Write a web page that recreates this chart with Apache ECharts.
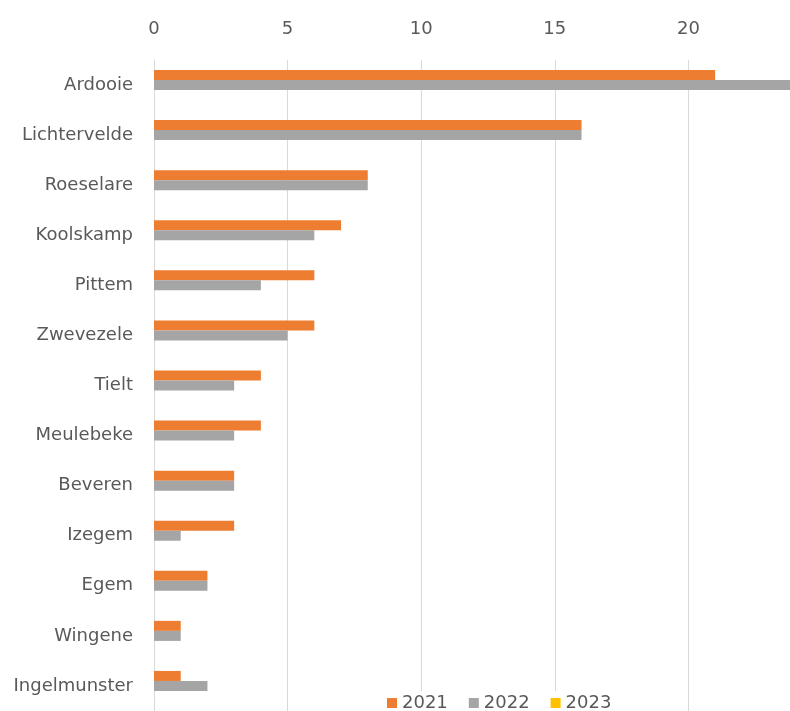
<!DOCTYPE html>
<html>
<head>
<meta charset="utf-8">
<script src="https://cdn.jsdelivr.net/npm/echarts@6/dist/echarts.min.js"></script>
<style>
  html, body { margin: 0; padding: 0; background: #fff; }
  #chart { width: 790px; height: 711px; }
</style>
</head>
<body>
<div id="chart"></div>
<script>
const places = ['Ardooie', 'Lichtervelde', 'Roeselare', 'Koolskamp', 'Pittem', 'Zwevezele',
  'Tielt', 'Meulebeke', 'Beveren', 'Izegem', 'Egem', 'Wingene', 'Ingelmunster']
const y2021 = [21, 16, 8, 7, 6, 6, 4, 4, 3, 3, 2, 1, 1]
const y2022 = [24, 16, 8, 6, 4, 5, 3, 3, 3, 1, 2, 1, 2]
const y2023 = [null, null, null, null, null, null, null, null, null, null, null, null, null]

const font = 'DejaVu Sans'
const textColor = '#595959'

const chart = echarts.init(document.getElementById('chart'))
const option = {
  animation: false,
  color: ['#ED7D31', '#A5A5A5', '#FFC000'],
  legend: {
    data: ['2021', '2022', '2023'],
    left: 381,
    bottom: -2,
    itemWidth: 10,
    itemHeight: 10,
    itemGap: 21,
    backgroundColor: '#fff',
    padding: [3, 6, 1, 6],
    icon: 'rect',
    textStyle: { fontFamily: font, fontSize: 18, color: textColor }
  },
  // the axis runs past the right edge (reference is cropped around 23.8)
  grid: { left: 154, width: 668, top: 60, bottom: 0, containLabel: false, outerBoundsMode: 'none' },
  xAxis: {
    type: 'value',
    position: 'top',
    min: 0,
    max: 25,
    interval: 5,
    axisLine: { show: false },
    axisTick: { show: false },
    splitLine: { lineStyle: { color: '#d9d9d9', width: 1 } },
    axisLabel: { fontFamily: font, fontSize: 18, color: textColor, margin: 22 }
  },
  yAxis: {
    type: 'category',
    inverse: true,
    data: places,
    axisLine: { show: true, lineStyle: { color: '#d9d9d9' } },
    axisTick: { show: false },
    axisLabel: { fontFamily: font, fontSize: 18, color: textColor, margin: 21 }
  },
  series: [
    { name: '2021', type: 'bar', data: y2021, barGap: '0%', barCategoryGap: '40%' },
    { name: '2022', type: 'bar', data: y2022, barGap: '0%', barCategoryGap: '40%' },
    { name: '2023', type: 'bar', data: y2023, barGap: '0%', barCategoryGap: '40%' }
  ]
}
chart.setOption(option)
</script>
</body>
</html>
